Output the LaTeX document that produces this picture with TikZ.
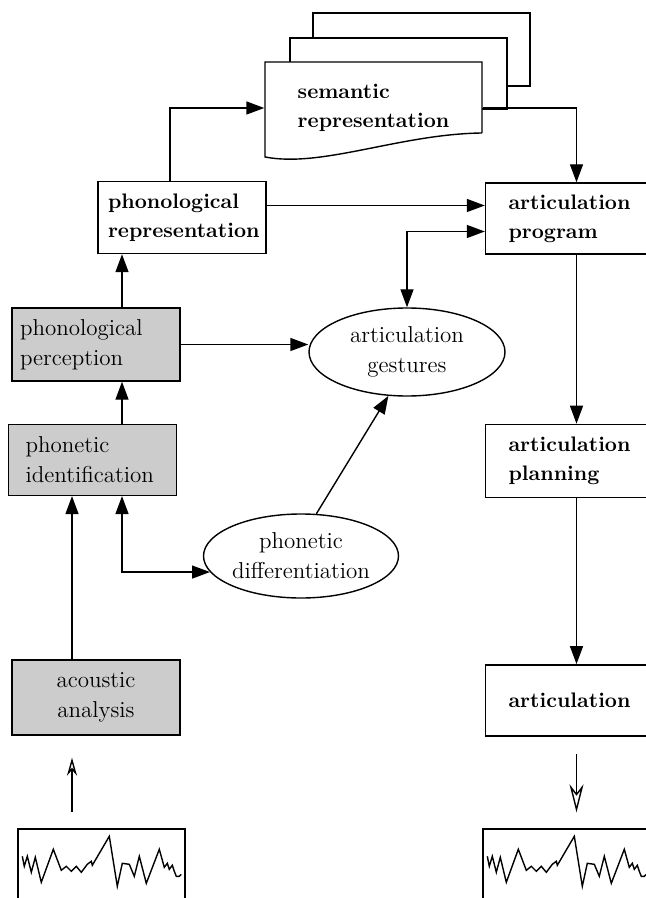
\documentclass[tikz,border=0pt]{standalone}
\usepackage{xcolor}
\usepackage{tikz}
\usetikzlibrary{arrows.meta,positioning,shapes.geometric}

\definecolor{boxgray}{RGB}{204,204,204}

\begin{document}
\begin{tikzpicture}[
  x=0.5pt, y=-0.5pt,
  line width=.7pt,
  rmfont/.style = {font=\fontsize{11.5}{15}\selectfont},
  bffont/.style = {font=\fontsize{10.5}{14.5}\selectfont\bfseries},
  box/.style    = {draw, rectangle, inner ysep=0pt, minimum height=36pt},
  gbox/.style   = {box, rmfont, fill=boxgray, align=left},
  wbox/.style   = {box, bffont, fill=white, align=left},
  rbox/.style   = {wbox, text width=68pt, inner xsep=11.5pt},
  oval/.style   = {draw, ellipse, rmfont, align=center, inner sep=0pt},
  sig/.style    = {draw, rectangle, minimum width=83.5pt, minimum height=45pt},
  ar/.style     = {-{Triangle[length=9pt,width=6.5pt]}},
  dar/.style    = {{Triangle[length=9pt,width=6.5pt]}-{Triangle[length=9pt,width=6.5pt]}},
  oar/.style    = {-{Stealth[open,length=9pt,width=5pt]}},
  wave/.pic     = {\draw (5,28) -- (7,38) -- (10,28) -- (14,44) -- (18,29) -- (24,54)
                     -- (36,21) -- (44,42) -- (49,38) -- (54,43) -- (59,38) -- (64,44)
                     -- (70,36) -- (74,33) -- (75,37) -- (92,8) -- (100,58) -- (105,35)
                     -- (112,36) -- (117,48) -- (122,28) -- (129,55) -- (142,21) -- (147,39)
                     -- (150,35) -- (152,41) -- (155,37) -- (157,43) -- (159,48) -- (162,48)
                     -- (164,46);},
]
\useasboundingbox (0,0) rectangle (645,898);

%% --- semantic representation, a stack of pages ---
\node[box, fill=white, minimum width=108.5pt, minimum height=36.5pt] (sem3) at (421.5,49.5) {};
\node[box, fill=white, minimum width=108.5pt, minimum height=35.5pt] (sem2) at (398.5,73.5) {};
\filldraw[fill=white] (482,133) -- (482,62) -- (265,62) -- (265,157)
  .. controls (322,168) and (400,134) .. (482,133);
\node[bffont, align=left, minimum width=108.5pt, minimum height=48pt, inner sep=0pt]
  (sem) at (373.5,108) {semantic\\representation};

%% --- perception side ---
\node[wbox, text width=74pt, inner xsep=5pt] (rep) at (182,217.5)
  {phonological\\representation};
\node[gbox, text width=76pt, inner xsep=4pt, minimum height=36.5pt] (percep) at (96,344.5)
  {phonological\\perception};
\node[gbox, text width=67pt, inner xsep=8.5pt, minimum height=35.5pt,
      below left=21pt and -83pt of percep] (ident)
  {phonetic\\identification};
\node[gbox, align=center, text width=76pt, inner xsep=4pt, minimum height=37.5pt] (acou) at (96,697.5)
  {acoustic\\analysis};
\node[sig] (sigL) at (101.5,874) {};
\pic at (sigL.north west) {wave};

%% --- the two ovals ---
\node[oval, minimum width=98pt, minimum height=44pt] (gest) at (407,352)
  {articulation\\gestures};
\node[oval, minimum width=97.5pt, minimum height=42pt] (diff) at (301,556)
  {phonetic\\differentiation};

%% --- production side ---
\node[rbox, minimum height=35.5pt] (prog) at (576.5,218.5) {articulation\\program};
\node[rbox, minimum height=36.5pt, below=84.5pt of prog] (plan) {articulation\\planning};
\node[rbox, minimum height=35.5pt, below=83pt of plan] (artic) {articulation};
\node[sig] (sigR) at (566.5,874) {};
\pic at (sigR.north west) {wave};

%% --- lanes for the vertical arrows ---
\coordinate (lane)  at (122,0);
\coordinate (lane2) at (72,0);
\coordinate (p1) at ([yshift=6.5pt]prog.west);
\coordinate (p2) at ([yshift=-6.5pt]prog.west);

%% --- arrows ---
\draw[ar] ([xshift=-6pt]rep.north) |- (sem.west);
\draw[ar] (sem.east) -| (prog.north);
\draw[ar] (rep.east |- p1) -- (p1);
\draw[dar] (p2) -| (gest.north);
\draw[ar] (percep.east) -- (percep.east -| gest.west);
\draw[ar] (diff.70) -- (gest.247);
\draw[ar] (percep.north -| lane) -- (rep.south -| lane);
\draw[ar] (ident.north -| lane) -- (percep.south -| lane);
\draw[dar] (ident.south -| lane) |- (diff.190);
\draw[ar] (acou.north -| lane2) -- (ident.south -| lane2);
\draw[oar] ([yshift=8pt]sigL.north -| lane2) -- ([yshift=-11pt]acou.south -| lane2);
\draw[ar] (prog) -- (plan);
\draw[ar] (plan) -- (artic);
\draw[oar, -{Stealth[open,length=14pt,width=7pt]}]
  ([yshift=-8.5pt]artic.south) -- ([yshift=8pt]artic.south |- sigR.north);
\end{tikzpicture}
\end{document}
